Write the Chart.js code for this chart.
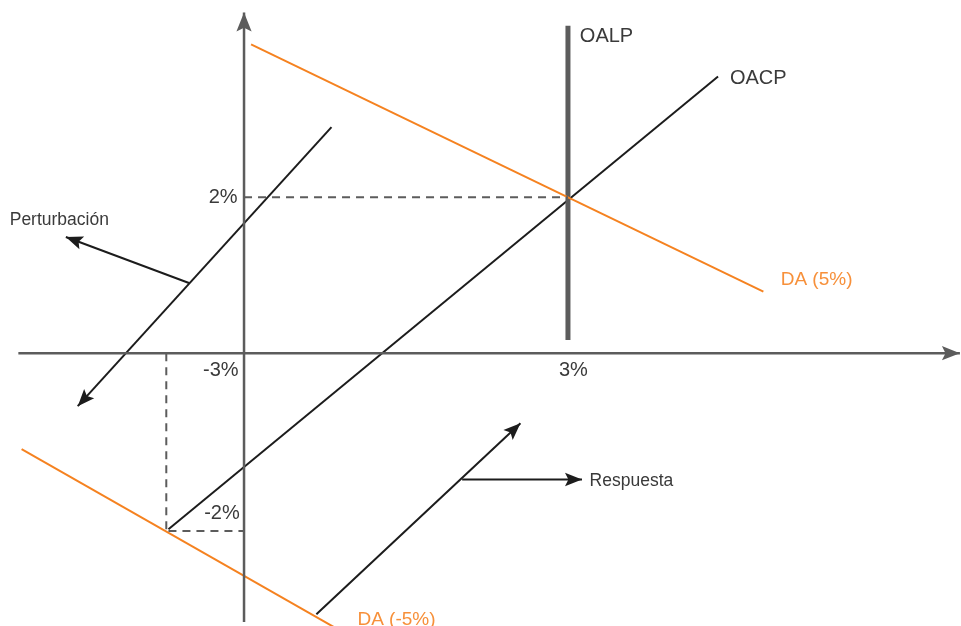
<!DOCTYPE html>
<html>
<head>
<meta charset="utf-8">
<script src="https://cdn.jsdelivr.net/npm/chart.js@4"></script>
<style>
  html, body { margin: 0; padding: 0; background: #fff; }
  canvas { display: block; }
</style>
</head>
<body>
<canvas id="chart" width="961" height="626"></canvas>
<script>
// x: inflation gap units, y: growth units (schematic)
const xAxisLine = [[-2.09, 0], [6.63, 0]];
const yAxisLine = [[0, -3.45], [0, 4.37]];
const da5 = [[0.065, 3.96], [4.81, 0.79]];
const daMinus5 = [[-2.06, -1.23], [0.98, -3.63]];
const oalp = [[3, 0.17], [3, 4.2]];
const oacp = [[-0.70, -2.26], [4.39, 3.55]];
const oacpShifted = [[0.81, 2.9], [-1.54, -0.68]];
const perturbArrow = [[-0.51, 0.90], [-1.65, 1.49]];
const responseDiag = [[0.67, -3.35], [2.56, -0.90]];
const responseArrow = [[2.02, -1.62], [3.13, -1.62]];
const guideTop = [[0, 2], [3, 2]];
const guideLeft = [[-0.72, 0], [-0.72, -2.28]];
const guideBottom = [[-0.70, -2.28], [0, -2.28]];

const tickLabels = ['2%', '-3%', '3%', '-2%'];
const tickAnchors = [[-0.06, 2], [-0.05, -0.22], [3.05, -0.22], [-0.04, -2.06]];
const curveLabels = ['OALP', 'OACP', 'DA (5%)', 'DA (-5%)', 'Perturbación', 'Respuesta'];
const curveAnchors = [[3.11, 4.06], [4.5, 3.52], [4.97, 0.94], [1.05, -3.42], [-2.17, 1.71], [3.2, -1.64]];

const gray = '#5c5c5c';
const ink = '#1c1c1c';
const orange = '#f58220';

const pts = (arr) => arr.map(([x, y]) => ({ x, y }));

function line(data, color, width, extra) {
  return Object.assign({
    data: pts(data),
    showLine: true,
    borderColor: color,
    borderWidth: width,
    pointRadius: 0,
    fill: false,
  }, extra || {});
}

const datasets = [
  line(xAxisLine, gray, 2.5, { arrow: 18 }),
  line(yAxisLine, gray, 2.5, { arrow: 19 }),
  line(guideTop, gray, 2, { borderDash: [8, 6] }),
  line(guideLeft, gray, 2, { borderDash: [8, 6] }),
  line(guideBottom, gray, 2, { borderDash: [8, 6] }),
  line(da5, orange, 2),
  line(daMinus5, orange, 2),
  line(oalp, gray, 5),
  line(oacp, ink, 2),
  line(oacpShifted, ink, 2, { arrow: 17 }),
  line(perturbArrow, ink, 2, { arrow: 17 }),
  line(responseDiag, ink, 2, { arrow: 17 }),
  line(responseArrow, ink, 2, { arrow: 17 }),
];

const arrowPlugin = {
  id: 'arrows',
  afterDatasetsDraw(chart) {
    const ctx = chart.ctx;
    const xs = chart.scales.x, ys = chart.scales.y;
    chart.data.datasets.forEach((ds) => {
      if (!ds.arrow) return;
      const n = ds.data.length;
      const a = ds.data[n - 2], b = ds.data[n - 1];
      const x1 = xs.getPixelForValue(a.x), y1 = ys.getPixelForValue(a.y);
      const x2 = xs.getPixelForValue(b.x), y2 = ys.getPixelForValue(b.y);
      const ang = Math.atan2(y2 - y1, x2 - x1);
      const len = ds.arrow, half = ds.arrow * 0.4;
      ctx.save();
      ctx.fillStyle = ds.borderColor;
      ctx.translate(x2, y2);
      ctx.rotate(ang);
      ctx.beginPath();
      ctx.moveTo(0, 0);
      ctx.lineTo(-len, -half);
      ctx.lineTo(-len * 0.8, 0);
      ctx.lineTo(-len, half);
      ctx.closePath();
      ctx.fill();
      ctx.restore();
    });
  },
};

const textPlugin = {
  id: 'texts',
  afterDatasetsDraw(chart) {
    const ctx = chart.ctx;
    const xs = chart.scales.x, ys = chart.scales.y;
    const draw = (txt, p, font, color, align) => {
      ctx.save();
      ctx.font = font;
      ctx.fillStyle = color;
      ctx.textAlign = align;
      ctx.textBaseline = 'middle';
      ctx.fillText(txt, xs.getPixelForValue(p[0]), ys.getPixelForValue(p[1]));
      ctx.restore();
    };
    const tickFont = '20px "Liberation Sans", Arial, sans-serif';
    const txt = '#3a3a3a';
    draw(tickLabels[0], tickAnchors[0], tickFont, txt, 'right');
    draw(tickLabels[1], tickAnchors[1], tickFont, txt, 'right');
    draw(tickLabels[2], tickAnchors[2], tickFont, txt, 'center');
    draw(tickLabels[3], tickAnchors[3], tickFont, txt, 'right');
    const bigFont = '20px "Liberation Sans", Arial, sans-serif';
    const smallFont = '17.5px "Liberation Sans", Arial, sans-serif';
    draw(curveLabels[0], curveAnchors[0], bigFont, txt, 'left');
    draw(curveLabels[1], curveAnchors[1], bigFont, txt, 'left');
    draw(curveLabels[2], curveAnchors[2], '19px "Liberation Sans", Arial, sans-serif', '#f7903a', 'left');
    draw(curveLabels[3], curveAnchors[3], '19px "Liberation Sans", Arial, sans-serif', '#f7903a', 'left');
    draw(curveLabels[4], curveAnchors[4], smallFont, txt, 'left');
    draw(curveLabels[5], curveAnchors[5], smallFont, txt, 'left');
  },
};

new Chart(document.getElementById('chart'), {
  type: 'scatter',
  data: { datasets },
  options: {
    responsive: false,
    animation: false,
    layout: { padding: 0 },
    plugins: { legend: { display: false }, tooltip: { enabled: false } },
    scales: {
      x: { type: 'linear', min: -2.26, max: 6.64, display: false },
      y: { type: 'linear', min: -3.5, max: 4.53, display: false },
    },
  },
  plugins: [arrowPlugin, textPlugin],
});
</script>
</body>
</html>
